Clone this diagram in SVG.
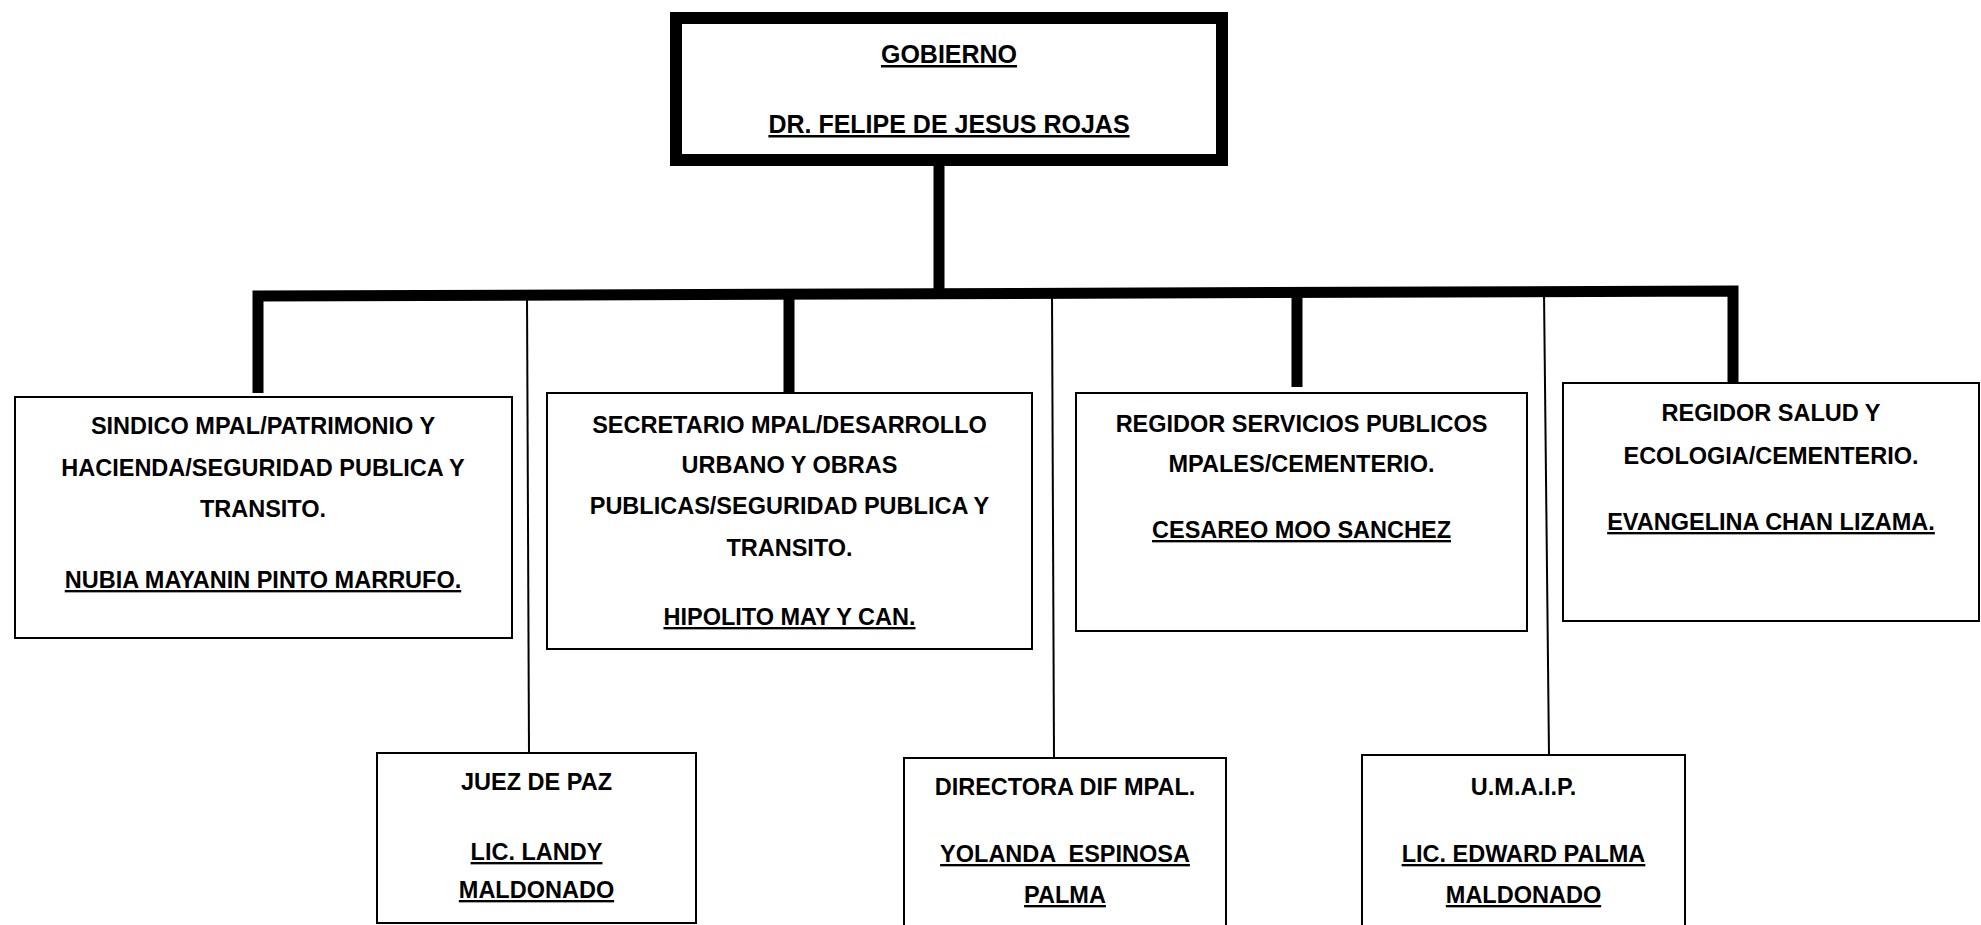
<svg xmlns="http://www.w3.org/2000/svg" width="1981" height="925" viewBox="0 0 1981 925">
<style>
.bg{fill:#ffffff}
.box{fill:#ffffff;stroke:#000000;stroke-width:2}
.topbox{fill:#ffffff;stroke:#000000;stroke-width:12}
.t{font-family:"Liberation Sans",Arial,sans-serif;font-weight:bold;font-size:23.5px;fill:#000000;text-anchor:middle;white-space:pre}
.tt{font-family:"Liberation Sans",Arial,sans-serif;font-weight:bold;font-size:25px;fill:#000000;text-anchor:middle}
.u{text-decoration:underline}
.thick{fill:none;stroke:#000000;stroke-width:11;stroke-linejoin:miter}
.thin{fill:none;stroke:#000000;stroke-width:2}
</style>
<rect class="bg" x="0" y="0" width="1981" height="925"/>
<g id="connectors">
  <path class="thick" d="M258,393 L258,296 L1733,291 L1733,382"/>
  <line class="thick" x1="939" y1="160" x2="939" y2="294"/>
  <line class="thick" x1="789" y1="293" x2="789" y2="392"/>
  <line class="thick" x1="1297" y1="292" x2="1297" y2="387"/>
  <line class="thin" x1="527" y1="295" x2="529" y2="753"/>
  <line class="thin" x1="1052" y1="294" x2="1054" y2="758"/>
  <line class="thin" x1="1544" y1="292" x2="1549" y2="755"/>
</g>
<g id="gobierno">
  <rect class="topbox" x="676" y="18" width="546" height="142"/>
  <text class="tt u" x="949" y="63">GOBIERNO</text>
  <text class="tt u" x="949" y="133">DR. FELIPE DE JESUS ROJAS</text>
</g>
<g id="sindico">
  <rect class="box" x="15" y="397" width="497" height="241"/>
  <text class="t" x="263" y="434">SINDICO MPAL/PATRIMONIO Y</text>
  <text class="t" x="263" y="476">HACIENDA/SEGURIDAD PUBLICA Y</text>
  <text class="t" x="263" y="517">TRANSITO.</text>
  <text class="t u" x="263" y="588">NUBIA MAYANIN PINTO MARRUFO.</text>
</g>
<g id="secretario">
  <rect class="box" x="547" y="393" width="485" height="256"/>
  <text class="t" x="789.5" y="433">SECRETARIO MPAL/DESARROLLO</text>
  <text class="t" x="789.5" y="473">URBANO Y OBRAS</text>
  <text class="t" x="789.5" y="514">PUBLICAS/SEGURIDAD PUBLICA Y</text>
  <text class="t" x="789.5" y="556">TRANSITO.</text>
  <text class="t u" x="789.5" y="625">HIPOLITO MAY Y CAN.</text>
</g>
<g id="regidor-servicios">
  <rect class="box" x="1076" y="393" width="451" height="238"/>
  <text class="t" x="1301.5" y="432">REGIDOR SERVICIOS PUBLICOS</text>
  <text class="t" x="1301.5" y="472">MPALES/CEMENTERIO.</text>
  <text class="t u" x="1301.5" y="538">CESAREO MOO SANCHEZ</text>
</g>
<g id="regidor-salud">
  <rect class="box" x="1563" y="383" width="416" height="238"/>
  <text class="t" x="1771" y="421">REGIDOR SALUD Y</text>
  <text class="t" x="1771" y="464">ECOLOGIA/CEMENTERIO.</text>
  <text class="t u" x="1771" y="530">EVANGELINA CHAN LIZAMA.</text>
</g>
<g id="juez">
  <rect class="box" x="377" y="753" width="319" height="170"/>
  <text class="t" x="536.5" y="790">JUEZ DE PAZ</text>
  <text class="t u" x="536.5" y="860">LIC. LANDY</text>
  <text class="t u" x="536.5" y="898">MALDONADO</text>
</g>
<g id="directora">
  <rect class="box" x="904" y="758" width="322" height="180"/>
  <text class="t" x="1065" y="795">DIRECTORA DIF MPAL.</text>
  <text class="t u" x="1065" y="862">YOLANDA  ESPINOSA</text>
  <text class="t u" x="1065" y="903">PALMA</text>
</g>
<g id="umaip">
  <rect class="box" x="1362" y="755" width="323" height="180"/>
  <text class="t" x="1523.5" y="795">U.M.A.I.P.</text>
  <text class="t u" x="1523.5" y="862">LIC. EDWARD PALMA</text>
  <text class="t u" x="1523.5" y="903">MALDONADO</text>
</g>
</svg>
